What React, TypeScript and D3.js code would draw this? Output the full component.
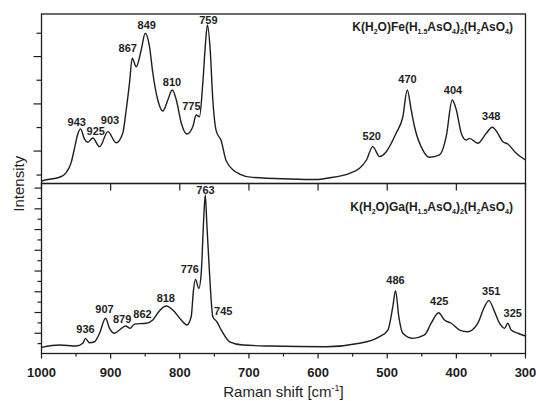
import React from "react";
import * as d3 from "d3";

// Raman shift (cm-1) / intensity (a.u.)
const feShift = [1000, 998, 974, 964, 957, 952, 947.5, 943.6, 937.8, 933, 925.8, 916, 904, 892, 882.4, 877.5, 872.7, 868.8, 863, 855.8, 850, 843.8, 839, 831.8, 824.6, 817.3, 811, 805, 797.9, 789.8, 781.2, 776.3, 771.5, 766.7, 762.8, 760, 756, 752.2, 747.3, 740, 732.9, 713.6, 694.4, 641.3, 600, 588, 554.5, 540, 530, 521, 511, 501.4, 487, 477.4, 471, 465.3, 460.5, 448.5, 438.8, 424.4, 414.7, 406, 400, 393, 385.7, 381, 369, 356.8, 348, 340, 332.8, 325.6, 313.4, 300];
const feIntensity = [0.8, 1.4, 3.4, 6.3, 12.2, 21.1, 29, 32, 26, 24.1, 26.6, 21.5, 30.4, 23.8, 29.6, 43.2, 59.2, 73.8, 68.8, 78.7, 88.6, 80.7, 65.1, 49.1, 42.6, 49.1, 55, 49.1, 35.5, 29, 33.3, 40.2, 39.2, 59.2, 82.8, 93.5, 78.7, 49.1, 30.8, 24.9, 13.2, 5.3, 3.3, 2.4, 2.1, 2.8, 5.7, 8.7, 13.6, 21.5, 15.6, 18.5, 29.6, 39.2, 55, 43.2, 33.3, 19.5, 15.2, 16.6, 27.4, 49.1, 43.2, 29.6, 25.4, 26.4, 23.5, 29.4, 33, 29.4, 24.4, 23.1, 17.6, 13.6];

const gaShift = [1000, 974, 949.8, 940.3, 936.4, 930.6, 923.3, 916, 907.4, 901.6, 894.4, 887.2, 878.5, 871.7, 865.5, 848.6, 839, 829.3, 819.6, 810, 797.9, 789.8, 783.5, 780.2, 777.3, 772.5, 769, 765.7, 763.2, 760.9, 757, 752.2, 746.5, 740, 728, 708.9, 670.2, 588, 540, 511, 499, 491.9, 488, 483.2, 477.4, 463, 446, 436.4, 425.8, 417.1, 407.4, 395.4, 383.4, 368.9, 359.3, 353, 344.8, 337.6, 330.3, 325.6, 320.7, 311.1, 300];
const gaIntensity = [3.9, 5.3, 4.7, 6.3, 9.2, 6.6, 7.2, 12.2, 21, 15.1, 12.2, 14.1, 16.5, 15.1, 17.6, 18.1, 20, 25.5, 28.2, 25.9, 20, 17.1, 21.9, 37.6, 43.9, 38.6, 47.5, 76.9, 93.5, 76.9, 47.5, 21.9, 19, 14.1, 7.2, 5.3, 4.7, 4.3, 6.3, 10.2, 14.1, 27.8, 37.2, 21.9, 12.2, 9.2, 11.2, 18.1, 24.3, 20, 18.1, 14.1, 13.1, 18.1, 27.8, 31.4, 24.9, 18.1, 15.1, 18.1, 14.1, 12.2, 10.6];

// peak labels: text, shift of text centre, intensity of baseline
const feLabels = ["943", "925", "903", "867", "849", "810", "775", "759", "520", "470", "404", "348"];
const feLabelShift = [949, 921.6, 900.9, 875.2, 847.8, 811.3, 783.3, 758.7, 522.4, 470.6, 404.8, 349.6];
const feLabelY = [33.9, 28.4, 34.9, 77.3, 90.9, 57.4, 43.2, 94.1, 25.4, 59.3, 52.7, 37.3];

const gaLabels = ["936", "907", "879", "862", "818", "776", "763", "745", "486", "425", "351", "325"];
const gaLabelShift = [936.4, 908.9, 883.3, 853.9, 820.2, 785.5, 762.8, 737.2, 488, 424.8, 349.6, 318.4];
const gaLabelY = [12.5, 23.9, 18.1, 21, 30.8, 47.8, 94.1, 22.9, 41.2, 28.8, 34.7, 21.9];

const xTicks = [1000, 900, 800, 700, 600, 500, 400, 300];
const xMinorTicks = [950, 850, 750, 650, 550, 450, 350];
const feMajorTicks = [18.9, 46.8, 74.8];
const feMinorTicks = [4.7, 32.8, 60.8, 88.6];
const gaMajorTicks = [12.2, 24.4, 36.6, 48.8, 61, 73.2, 85.4, 97.6];
const gaMinorTicks = [6.1, 18.3, 30.5, 42.7, 54.9, 67.1, 79.3, 91.5];

const W = 536;
const H = 401;
const left = 41.5;
const right = 525.5;
const top = 14;
const mid = 183.5;
const bottom = 353.5;
const ink = "#1e1e1e";
const font = "Arial, 'Liberation Sans', sans-serif";

const Formula = ({ metal, x, y }: { metal: string; x: number; y: number }) => {
  const sub = (t: string) => (
    <tspan fontSize={7} dy={3}>{t}</tspan>
  );
  const up = (t: string) => <tspan dy={-3}>{t}</tspan>;
  return (
    <text x={x} y={y} textAnchor="end" fontSize={12} fontWeight="bold" fontFamily={font} fill={ink}>
      K(H{sub("2")}{up("O)" + metal + "(H")}{sub("1.5")}{up("AsO")}{sub("4")}{up(")")}{sub("2")}{up("(H")}{sub("2")}{up("AsO")}{sub("4")}{up(")")}
    </text>
  );
};

const App = () => {
  const x = d3.scaleLinear().domain([1000, 300]).range([left, right]);
  const yFe = d3.scaleLinear().domain([0, 100]).range([183, 14]);
  const yGa = d3.scaleLinear().domain([0, 100]).range([354, 184]);

  const feLine = d3
    .line<number>()
    .x((d) => x(d))
    .y((_, i) => yFe(feIntensity[i]))
    .curve(d3.curveMonotoneX);
  const gaLine = d3
    .line<number>()
    .x((d) => x(d))
    .y((_, i) => yGa(gaIntensity[i]))
    .curve(d3.curveMonotoneX);

  return (
    <svg width={W} height={H} style={{ position: "absolute", left: 0, top: 0, background: "#fff" }}>
      {/* spectra */}
      <path d={feLine(feShift) || ""} fill="none" stroke={ink} strokeWidth={1.4} />
      <path d={gaLine(gaShift) || ""} fill="none" stroke={ink} strokeWidth={1.4} />

      {/* frames */}
      <rect x={left} y={top} width={right - left} height={mid - top} fill="none" stroke={ink} strokeWidth={1.3} />
      <rect x={left} y={mid} width={right - left} height={bottom - mid} fill="none" stroke={ink} strokeWidth={1.3} />

      {/* x ticks */}
      {xTicks.map((t) => (
        <g key={"xt" + t}>
          <line x1={x(t)} x2={x(t)} y1={bottom} y2={bottom + 5} stroke={ink} strokeWidth={1.2} />
          <line x1={x(t)} x2={x(t)} y1={mid} y2={mid + 7} stroke={ink} strokeWidth={1.2} />
          <text x={x(t)} y={377} textAnchor="middle" fontSize={13} fontWeight="bold" fontFamily={font} fill={ink}>
            {t}
          </text>
        </g>
      ))}
      {xMinorTicks.map((t) => (
        <line key={"xm" + t} x1={x(t)} x2={x(t)} y1={bottom} y2={bottom + 3} stroke={ink} strokeWidth={1.2} />
      ))}

      {/* y ticks */}
      {feMajorTicks.map((t) => (
        <line key={"fM" + t} x1={left - 8} x2={left} y1={yFe(t)} y2={yFe(t)} stroke={ink} strokeWidth={1.2} />
      ))}
      {feMinorTicks.map((t) => (
        <line key={"fm" + t} x1={left - 5} x2={left} y1={yFe(t)} y2={yFe(t)} stroke={ink} strokeWidth={1.2} />
      ))}
      {gaMajorTicks.map((t) => (
        <line key={"gM" + t} x1={left - 7} x2={left} y1={yGa(t)} y2={yGa(t)} stroke={ink} strokeWidth={1.2} />
      ))}
      {gaMinorTicks.map((t) => (
        <line key={"gm" + t} x1={left - 4} x2={left} y1={yGa(t)} y2={yGa(t)} stroke={ink} strokeWidth={1.2} />
      ))}

      {/* peak labels */}
      {feLabels.map((l, i) => (
        <text key={"fl" + i} x={x(feLabelShift[i])} y={yFe(feLabelY[i])} textAnchor="middle" fontSize={11} fontWeight="bold" fontFamily={font} fill={ink}>
          {l}
        </text>
      ))}
      {gaLabels.map((l, i) => (
        <text key={"gl" + i} x={x(gaLabelShift[i])} y={yGa(gaLabelY[i])} textAnchor="middle" fontSize={11} fontWeight="bold" fontFamily={font} fill={ink}>
          {l}
        </text>
      ))}

      <Formula metal="Fe" x={513} y={31} />
      <Formula metal="Ga" x={513} y={211} />

      {/* axis titles */}
      <text transform={`translate(24,${(top + bottom) / 2}) rotate(-90)`} textAnchor="middle" fontSize={15} fontFamily={font} fill={ink}>
        Intensity
      </text>
      <text x={(left + right) / 2} y={397} textAnchor="middle" fontSize={15} fontFamily={font} fill={ink}>
        Raman shift [cm<tspan fontSize={9} dy={-6}>-1</tspan><tspan dy={6}>]</tspan>
      </text>
    </svg>
  );
};

export default App;
